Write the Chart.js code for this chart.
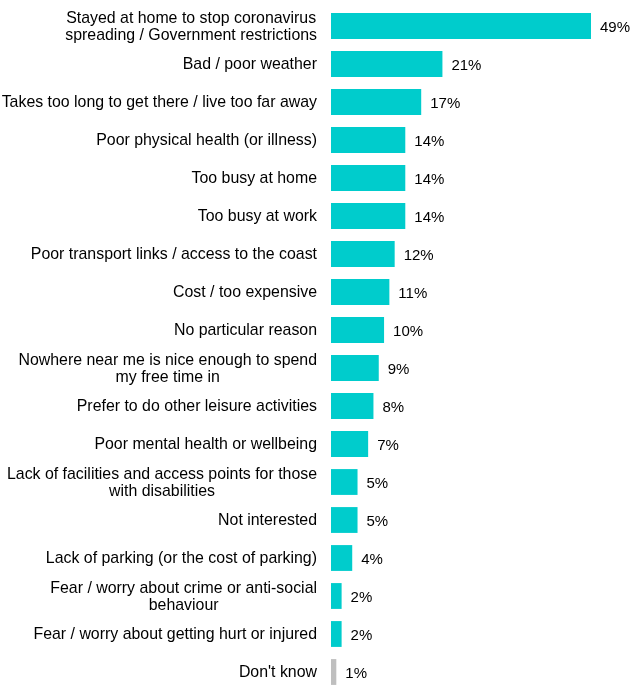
<!DOCTYPE html>
<html>
<head>
<meta charset="utf-8">
<script src="https://cdn.jsdelivr.net/npm/chart.js@4/dist/chart.umd.min.js"></script>
<style>
    body { margin: 0; background: #ffffff; }
    #wrap { width: 637px; height: 693px; }
</style>
</head>
<body>
<div id="wrap"><canvas id="reasonsChart" width="637" height="693"></canvas></div>
<script>
const categories = [
    ["Stayed at home to stop coronavirus", "spreading / Government restrictions"],
    ["Bad / poor weather"],
    ["Takes too long to get there / live too far away"],
    ["Poor physical health (or illness)"],
    ["Too busy at home"],
    ["Too busy at work"],
    ["Poor transport links / access to the coast"],
    ["Cost / too expensive"],
    ["No particular reason"],
    ["Nowhere near me is nice enough to spend", "my free time in"],
    ["Prefer to do other leisure activities"],
    ["Poor mental health or wellbeing"],
    ["Lack of facilities and access points for those", "with disabilities"],
    ["Not interested"],
    ["Lack of parking (or the cost of parking)"],
    ["Fear / worry about crime or anti-social", "behaviour"],
    ["Fear / worry about getting hurt or injured"],
    ["Don't know"]
];
const percentValues = [49, 21, 17, 14, 14, 14, 12, 11, 10, 9, 8, 7, 5, 5, 4, 2, 2, 1];
const barColors = percentValues.map((v, i) => i === percentValues.length - 1 ? "#BFBFBF" : "#00CCCC");

const LABEL_FONT = "15.9px 'Liberation Sans', Arial, sans-serif";
const VALUE_FONT = "15px 'Liberation Sans', Arial, sans-serif";

// Category labels: block right-aligned, lines centred inside the block
const categoryLabelPlugin = {
    id: "categoryLabels",
    afterDraw(chart) {
        const ctx = chart.ctx;
        const yScale = chart.scales.y;
        const rightEdge = chart.chartArea.left - 14;
        ctx.save();
        ctx.font = LABEL_FONT;
        ctx.fillStyle = "#000000";
        ctx.textAlign = "center";
        ctx.textBaseline = "middle";
        categories.forEach((lines, i) => {
            const y = yScale.getPixelForValue(i);
            const w = Math.max(...lines.map(l => ctx.measureText(l).width));
            const cx = rightEdge - w / 2;
            const lineH = 17.5;
            const startY = y - (lines.length - 1) * lineH / 2 + 1;
            lines.forEach((l, j) => ctx.fillText(l, cx, startY + j * lineH));
        });
        ctx.restore();
    }
};

// Percentage labels at the end of each bar
const valueLabelPlugin = {
    id: "valueLabels",
    afterDatasetsDraw(chart) {
        const ctx = chart.ctx;
        const meta = chart.getDatasetMeta(0);
        ctx.save();
        ctx.font = VALUE_FONT;
        ctx.fillStyle = "#000000";
        ctx.textAlign = "left";
        ctx.textBaseline = "middle";
        meta.data.forEach((bar, i) => {
            ctx.fillText(percentValues[i] + "%", bar.x + 9, bar.y + 2);
        });
        ctx.restore();
    }
};

const ctx = document.getElementById("reasonsChart").getContext("2d");
new Chart(ctx, {
    type: "bar",
    data: {
        labels: categories.map(c => c.join(" ")),
        datasets: [{
            data: percentValues,
            backgroundColor: barColors,
            borderWidth: 0,
            barPercentage: 0.68,
            categoryPercentage: 1.0
        }]
    },
    options: {
        indexAxis: "y",
        responsive: false,
        animation: false,
        layout: { padding: { top: 7, bottom: 2, right: 46, left: 0 } },
        plugins: {
            legend: { display: false },
            tooltip: { enabled: false }
        },
        scales: {
            x: {
                display: false,
                min: 0,
                max: 49
            },
            y: {
                grid: { display: false },
                border: { display: false },
                ticks: { display: false },
                afterFit(scale) { scale.width = 331; }
            }
        }
    },
    plugins: [categoryLabelPlugin, valueLabelPlugin]
});
</script>
</body>
</html>
